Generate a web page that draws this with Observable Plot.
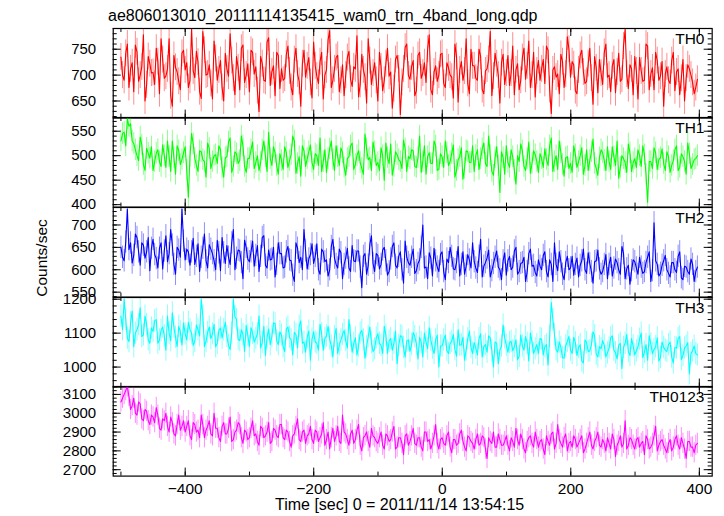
<!DOCTYPE html>
<html><head><meta charset="utf-8">
<script src="https://cdn.jsdelivr.net/npm/d3@7"></script>
<script src="https://cdn.jsdelivr.net/npm/@observablehq/plot@0.6"></script>
<style>
html,body{margin:0;padding:0;background:#fff;}
#chart{position:relative;width:724px;height:516px;overflow:hidden;font-family:"Liberation Sans",Arial,sans-serif;}
</style></head><body><div id="chart"></div>
<script>
const titleText = "ae806013010_20111114135415_wam0_trn_4band_long.qdp";
const xLabelText = "Time [sec] 0 = 2011/11/14 13:54:15";
const yLabelText = "Counts/sec";
const panelNames = ["TH0", "TH1", "TH2", "TH3", "TH0123"];
const panelColors = ["#ff0000", "#00ff00", "#0000ff", "#00ffff", "#ff00ff"];
const timeRange = [-500, 397];
const xDomain = [-512, 420];
const xTickLabels = [-400, -200, 0, 200, 400];

// even-numbered time bins
const th0Even = [735,690,760,712,668,745,700,778,681,722, 705,752,664,730,698,770,640,715,688,742,
 710,676,790,695,725,655,748,702,684,766, 690,728,650,712,780,694,736,672,758,700,
 668,744,716,630,722,688,772,706,660,738, 712,694,756,676,730,702,640,748,718,686,
 764,698,726,654,710,786,690,734,668,720, 700,746,678,712,658,740,696,770,682,724,
 650,716,690,752,706,674,738,624,712,760, 692,728,670,744,704,686,778,662,718,700,
 742,676,714,696,760,648,726,708,684,750, 718,690,736,664,712,784,698,722,646,740,
 704,680,756,710,672,734,692,766,700,658, 728,712,684,748,626,716,702,740,676,774,
 696,720,664,738,706,688,752,644,714,730, 682,760,700,718,666,742,692,788,674,712,
 736,654,708,690,756,702,672,728,698,640, 716,684,744,706,662,730,694,712,686,676];
// odd-numbered time bins
const th0Odd = [700,742,676,724,758,688,716,650,736,704, 682,726,770,694,712,660,738,706,672,748,
 724,690,708,746,668,784,700,720,654,732, 710,676,742,698,728,662,714,752,686,722,
 748,702,670,736,690,764,680,718,744,674, 690,740,708,662,752,688,722,696,734,656,
 718,684,744,700,768,676,712,738,690,660, 734,692,716,776,682,710,646,728,704,690,
 744,670,722,698,636,730,712,686,754,700, 716,660,738,694,724,750,672,706,688,740,
 684,724,700,656,736,710,690,770,664,718, 694,750,672,708,730,660,742,700,724,682,
 738,704,662,722,690,752,718,676,744,708, 690,730,756,672,710,696,664,726,702,750,
 726,670,710,748,684,722,694,736,666,704, 744,696,668,730,706,688,756,702,720,662,
 708,734,688,760,672,714,744,690,726,702, 690,728,670,712,694,650,720,700,664,692];

const th1Even = [530,548,575,565,525,500,538,482,515,495, 470,505,488,522,476,498,530,462,510,492,
 518,415,545,495,468,508,488,526,474,500, 484,512,456,498,536,478,504,490,520,466,
 495,528,486,470,512,498,548,480,506,462, 490,518,476,502,530,484,458,510,494,522,
 472,500,536,488,466,514,492,520,480,506, 460,498,526,482,510,474,544,492,470,508,
 486,516,450,496,524,478,502,488,532,468, 494,510,476,540,488,462,506,484,520,472,
 498,530,480,504,456,492,516,474,508,486, 468,512,494,526,478,500,460,518,425,496,
 520,476,498,442,488,510,470,528,484,502, 466,494,514,480,536,488,472,506,458,498,
 484,520,476,500,462,512,490,534,474,496, 506,470,488,518,480,454,500,486,524,468,
 494,512,478,502,405,488,516,472,496,484, 508,466,490,520,476,498,462,504,482,494];
const th1Odd = [545,520,560,530,512,490,522,470,505,518, 488,512,478,500,530,468,496,520,482,506,
 470,498,524,480,510,492,456,515,488,502, 520,476,496,528,466,508,484,540,478,494,
 512,474,500,486,530,468,494,518,480,504, 472,506,490,540,464,498,520,478,508,486,
 504,480,468,512,494,530,470,498,516,476, 494,520,472,500,486,462,514,496,528,480,
 470,500,526,484,460,508,492,474,514,498, 512,478,496,466,520,498,484,530,470,504,
 476,506,488,522,470,498,452,510,486,520, 500,472,514,484,540,468,496,480,508,462,
 486,512,470,500,524,478,494,464,510,488, 504,476,492,520,468,500,530,482,496,474,
 466,502,488,516,480,470,508,484,460,512, 490,518,472,498,530,476,494,466,506,486,
 476,500,520,462,488,474,506,492,514,470, 498,480,512,470,504,488,526,474,492,500];

const th2Even = [650,620,735,660,632,672,610,655,640,598, 668,625,648,602,676,636,655,590,644,735,
 622,640,640,612,658,628,680,604,646,620, 666,598,638,654,612,690,626,642,580,650,
 618,664,632,596,672,610,644,624,584,660, 636,606,652,620,574,648,628,690,602,634,
 614,658,590,640,622,600,668,612,646,580, 626,604,654,618,642,560,636,610,676,596,
 632,612,650,588,624,660,604,640,570,628, 610,646,598,622,700,606,638,586,620,596,
 640,578,616,630,600,652,612,590,634,604, 618,594,668,608,626,584,614,642,600,620,
 588,630,606,650,596,616,574,636,608,594, 622,600,640,584,612,660,598,618,578,630,
 604,588,626,610,646,592,614,570,620,602, 596,634,612,586,624,600,652,580,610,598,
 618,590,606,596,628,574,705,612,592,620, 600,584,616,594,640,578,606,590,612,596];
const th2Odd = [628,662,645,615,680,640,660,626,672,648, 634,604,660,642,618,690,612,650,628,664,
 646,610,670,630,596,648,620,656,636,600, 638,672,614,628,660,600,644,616,666,624,
 640,608,654,630,676,604,622,650,612,636, 604,640,622,588,660,616,600,642,624,658,
 630,600,646,618,586,652,626,604,638,612, 648,596,620,642,606,630,590,656,614,636,
 602,644,620,596,652,610,630,600,664,616, 628,592,614,650,604,580,626,648,606,634,
 596,624,650,602,616,586,640,608,622,660, 604,630,584,616,644,598,628,606,578,638,
 620,600,642,590,614,628,596,646,610,586, 608,632,596,622,574,612,640,590,616,600,
 630,612,584,620,600,638,596,618,644,590, 612,580,628,604,616,590,636,602,568,622,
 604,628,592,616,640,598,620,586,610,632, 592,616,600,630,582,608,596,624,574,606];

const th3Even = [1150,1200,1085,1130,1060,1110,1175,1095,1125,1070, 1105,1140,1080,1118,1050,1100,1160,1088,1120,1065,
 1098,1132,1100,1076,1110,1200,1060,1102,1084,1126, 1070,1115,1110,1090,1052,1200,1140,1078,1096,1122,
 1060,1100,1085,1150,1072,1034,1112,1090,1128,1066, 1094,1046,1118,1080,1102,1056,1136,1074,1088,1020,
 1104,1070,1126,1050,1092,1082,1030,1114,1066,1096, 1078,1140,1044,1086,1062,1108,1026,1090,1072,1054,
 1098,1064,1120,1040,1084,1070,1010,1092,1058,1076, 1046,1102,1068,1088,1030,1074,1116,1056,1080,1000,
 1062,1094,1040,1076,1052,1110,1066,1020,1084,1058, 1072,1036,1098,1060,1044,1086,1000,1070,1050,1124,
 1064,1072,1048,1080,1032,1062,1090,1018,1074,1054, 1040,1082,1060,1006,1190,1096,1044,1058,1026,1076,
 1050,1088,1034,1066,1012,1072,1048,1104,1038,1060, 1078,1030,1056,1092,1042,1064,996,1070,1046,1084,
 1036,1060,1100,1044,1020,1068,1052,1086,1028,1058, 1046,1074,1012,1056,1090,1034,1062,980,1048,1040];
const th3Odd = [1110,1140,1075,1165,1100,1125,1090,1150,1080,1115, 1136,1070,1108,1092,1150,1078,1118,1060,1104,1130,
 1080,1110,1064,1124,1092,1150,1076,1118,1098,1060, 1108,1086,1132,1064,1100,1148,1082,1110,1046,1094,
 1116,1074,1098,1056,1120,1088,1066,1130,1078,1104, 1060,1112,1088,1036,1096,1120,1070,1044,1106,1082,
 1074,1050,1098,1084,1120,1062,1090,1040,1080,1108, 1056,1092,1070,1036,1100,1080,1060,1118,1046,1086,
 1070,1040,1094,1076,1050,1106,1064,1090,1030,1080, 1066,1090,1024,1072,1100,1054,1080,1040,1094,1062,
 1080,1048,1070,1096,1032,1064,1088,1050,1106,1040, 1056,1084,1030,1066,1092,1048,1074,1010,1062,1086,
 1044,1076,1060,1022,1094,1050,1070,1100,1040,1066, 1084,1036,1066,1090,1140,1052,1074,1028,1062,1090,
 1040,1072,1058,1018,1080,1046,1066,1092,1030,1054, 1064,1042,1086,1050,1024,1070,1058,1096,1034,1062,
 1048,1082,1028,1066,1092,1040,1060,1018,1074,1050, 1066,1030,1058,1084,1022,1056,1072,1040,1062,1036];

const th0123Even = [3060,3100,3140,3020,3080,2990,3050,2960,3010,2940, 2980,3030,2920,2970,3000,2900,2950,2880,2990,2930,
 2900,2960,2860,2940,2910,2990,2870,2930,2890,3000, 2920,2850,2950,2890,2980,2860,2910,2940,2840,2900,
 2870,2960,2890,2830,2920,2880,2950,2850,2910,2870, 2940,2860,2900,2820,2890,2970,2850,2910,2880,2930,
 2840,2900,2870,2950,2860,2810,2920,2880,2850,2990, 2890,2830,2910,2860,2940,2800,2880,2850,2920,2870,
 2840,2900,2810,2880,2860,2930,2820,2870,2780,2890, 2850,2920,2830,2870,2800,2900,2860,2840,2940,2810,
 2870,2830,2900,2790,2860,2840,2910,2820,2880,2850, 2810,2890,2840,2870,2760,2850,2900,2820,2860,2830,
 2880,2800,2850,2920,2830,2860,2790,2870,2840,2900, 2820,2860,2780,2850,2890,2810,2940,2840,2870,2800,
 2850,2880,2820,2860,2790,2840,2900,2810,2870,2830, 2860,2800,2840,2890,2770,2850,2820,2960,2830,2860,
 2810,2870,2840,2780,2860,2820,2880,2800,2850,2830, 2790,2860,2820,2880,2810,2840,2760,2850,2820,2830];
const th0123Odd = [3080,3120,3090,3040,3000,3060,2970,3020,2960,2990, 2950,2990,2910,2960,2930,2980,2890,2940,2910,2960,
 2930,2880,2950,2900,2870,2940,2910,2960,2880,2920, 2870,2930,2890,2920,2850,2900,2950,2870,2910,2860,
 2920,2880,2850,2930,2870,2900,2840,2920,2880,2940, 2870,2910,2850,2880,2930,2860,2900,2840,2890,2860,
 2910,2850,2890,2830,2900,2870,2850,2930,2840,2900, 2860,2890,2840,2910,2830,2870,2900,2820,2880,2850,
 2870,2830,2890,2850,2900,2810,2870,2840,2880,2830, 2880,2840,2870,2820,2900,2850,2810,2880,2840,2860,
 2840,2880,2820,2860,2830,2890,2850,2800,2870,2840, 2860,2830,2880,2810,2870,2840,2820,2890,2830,2850,
 2830,2870,2820,2860,2890,2810,2850,2880,2820,2860, 2850,2810,2880,2830,2900,2840,2860,2820,2890,2840,
 2820,2860,2840,2880,2810,2870,2830,2850,2900,2820, 2840,2870,2810,2860,2830,2880,2840,2810,2870,2830,
 2860,2820,2850,2880,2810,2840,2930,2830,2860,2810, 2840,2800,2860,2830,2870,2810,2850,2820,2790,2840];

const seriesEven = [th0Even, th1Even, th2Even, th3Even, th0123Even];
const seriesOdd = [th0Odd, th1Odd, th2Odd, th3Odd, th0123Odd];
const seriesErrors = [26, 22, 25, 33, 54];
const yTickLabels = [[650,700,750],[400,450,500,550],[550,600,650,700],[1000,1100,1200],[2700,2800,2900,3000,3100]];
const yDomains = [[617,790],[395,578],[539,739],[941,1205],[2666,3142]];
const yMinorSteps = [10, 10, 10, 20, 20];

// layout
const W = 724, ML = 112.7, MR = 12.3, TOP = 27.7, PH = 89.6, MB = 40;
const PW = W - ML - MR;
const chart = document.getElementById("chart");
const fontFamily = '"Liberation Sans", Arial, sans-serif';

seriesEven.forEach((even, i) => {
  const odd = seriesOdd[i];
  const vals = [];
  even.forEach((v, k) => { vals.push(v); if (k < odd.length) vals.push(odd[k]); });
  const n = vals.length;
  const step = (timeRange[1] - timeRange[0]) / (n - 1);
  const err = seriesErrors[i];
  const data = vals.map((v, j) => ({t: timeRange[0] + j * step, v, lo: v - err, hi: v + err}));
  const last = i === seriesEven.length - 1;
  const [y0, y1] = yDomains[i];
  const ms = yMinorSteps[i];
  const yMinor = d3.range(Math.ceil(y0 / ms) * ms, y1 + 0.001, ms);
  const xMinor = d3.range(-500, 401, 100);
  const len = (L) => PW - L;
  const lenV = (L) => PH - L;
  const svg = Plot.plot({
    width: W,
    height: PH + (last ? MB : 0),
    marginLeft: ML, marginRight: MR, marginTop: 0, marginBottom: last ? MB : 0,
    x: {domain: xDomain, axis: null},
    y: {domain: yDomains[i], axis: null},
    style: {fontFamily, fontSize: "15px", background: "transparent", overflow: "visible", color: "black"},
    marks: [
      Plot.ruleX(data, {x: "t", y1: "lo", y2: "hi", stroke: panelColors[i], strokeOpacity: 0.45, strokeWidth: 1, clip: true}),
      Plot.lineY(data, {x: "t", y: "v", stroke: panelColors[i], strokeWidth: 1.1, clip: true}),
      Plot.tickY(yMinor, {y: d => d, insetRight: len(4), stroke: "black"}),
      Plot.tickY(yMinor, {y: d => d, insetLeft: len(4), stroke: "black"}),
      Plot.tickY(yTickLabels[i], {y: d => d, insetRight: len(8), stroke: "black"}),
      Plot.tickY(yTickLabels[i], {y: d => d, insetLeft: len(8), stroke: "black"}),
      Plot.tickX(xMinor, {x: d => d, insetTop: lenV(4), stroke: "black"}),
      Plot.tickX(xMinor, {x: d => d, insetBottom: lenV(4), stroke: "black"}),
      Plot.tickX(xTickLabels, {x: d => d, insetTop: lenV(8), stroke: "black"}),
      Plot.tickX(xTickLabels, {x: d => d, insetBottom: lenV(8), stroke: "black"}),
      Plot.frame({stroke: "black", strokeWidth: 1.2}),
      Plot.axisY(yTickLabels[i], {tickSize: 0, tickPadding: 17, label: null, tickFormat: d3.format("d"), fontSize: 15}),
      ...(last ? [Plot.axisX(xTickLabels, {tickSize: 0, tickPadding: 7, label: null, tickFormat: d3.format("d"), fontSize: 15.5})] : []),
      Plot.text([panelNames[i]], {frameAnchor: "top-right", text: d => d, dx: -7.7, dy: 4, lineAnchor: "top", textAnchor: "end", fontSize: 15.5, fill: "black"})
    ]
  });
  svg.style.position = "absolute";
  svg.style.left = "0px";
  svg.style.top = (TOP + i * PH) + "px";
  chart.appendChild(svg);
});

const overlay = d3.select("#chart").append("svg")
  .attr("width", W).attr("height", 516)
  .style("position", "absolute").style("left", "0px").style("top", "0px")
  .style("pointer-events", "none")
  .attr("font-family", fontFamily).attr("font-size", 16).attr("fill", "black");
overlay.append("text").attr("x", 108).attr("y", 21).attr("font-size", 16).text(titleText);
overlay.append("text").attr("x", 275).attr("y", 510).text(xLabelText);
overlay.append("text").attr("transform", "translate(46.5,258) rotate(-90)").attr("text-anchor", "middle").attr("font-size", 15.5).text(yLabelText);
</script></body></html>
